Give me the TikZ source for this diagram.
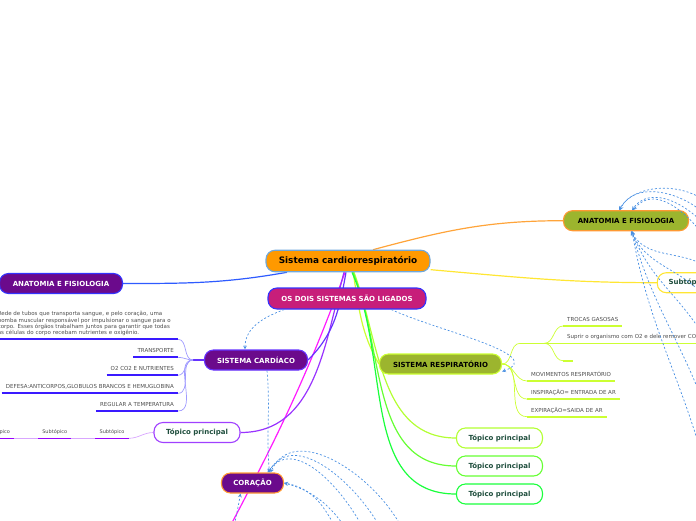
\documentclass[tikz,border=0pt]{standalone}
\usepackage{fontspec}
\setmainfont{DejaVu Sans}
\usetikzlibrary{positioning,backgrounds}

\definecolor{rootfill}{HTML}{FF9900}
\definecolor{rootline}{HTML}{6FA8DC}
\definecolor{linkfill}{HTML}{C71E7A}
\definecolor{purplefill}{HTML}{6B0A8C}
\definecolor{olivefill}{HTML}{9CB52E}
\definecolor{bordblue}{HTML}{3333FF}
\definecolor{underblue}{HTML}{3A1AFF}
\definecolor{bordorange}{HTML}{FF9933}
\definecolor{bordlime}{HTML}{CCFF33}
\definecolor{bordviolet}{HTML}{6633FF}
\definecolor{bordpurple}{HTML}{A040FF}
\definecolor{bordyellow}{HTML}{FFE633}
\definecolor{topictext}{HTML}{1F4E3D}
\definecolor{leaftext}{HTML}{4D4D4D}
\definecolor{relblue}{HTML}{4A90E2}
\definecolor{lineorange}{HTML}{FFA43A}
\definecolor{lineblue}{HTML}{2E5BFF}
\definecolor{linemagenta}{HTML}{FF1AFF}
\definecolor{linepurple}{HTML}{9933FF}
\definecolor{lavender}{HTML}{A09BFF}
\definecolor{lilac}{HTML}{D9A6FF}
\definecolor{subpurple}{HTML}{9900FF}
\definecolor{greenA}{HTML}{B3FF33}
\definecolor{greenB}{HTML}{66FF33}
\definecolor{greenC}{HTML}{1AFF3C}

\begin{document}
\begin{tikzpicture}[x=1pt, y=-1pt]
    \tikzstyle{box} = [rounded corners=9pt, line width=1.1pt, minimum height=20pt, inner sep=0pt, text centered]
    \tikzstyle{capsfont} = [font=\fontsize{7}{8}\selectfont\bfseries]
    \tikzstyle{root} = [box, fill=rootfill, draw=rootline, minimum width=164pt, minimum height=21.5pt, font=\fontsize{8.9}{10}\selectfont\bfseries]
    \tikzstyle{main} = [box, capsfont, text=white, fill=purplefill]
    \tikzstyle{greenbox} = [box, capsfont, fill=olivefill]
    \tikzstyle{topic} = [box, fill=white, text=topictext, minimum width=86pt, font=\fontsize{7}{8}\selectfont\bfseries]
    \tikzstyle{leaf} = [inner xsep=4pt, inner ysep=3pt, text=leaftext, font=\fontsize{5.5}{6.4}\selectfont]
    \tikzstyle{word} = [leaf, text height=3.9pt, text depth=1.4pt]
    \tikzstyle{cline} = [append after command={(\tikzlastnode.south west) edge[color=underblue, line width=1.8pt] (\tikzlastnode.south east)}]
    \tikzstyle{rline} = [append after command={(\tikzlastnode.south west) edge[color=bordlime, line width=1.6pt] (\tikzlastnode.south east)}]
    \tikzstyle{sline} = [append after command={(\tikzlastnode.south west) edge[color=subpurple, line width=1.6pt] (\tikzlastnode.south east)}]
    \tikzstyle{conn} = [line width=1.2pt]
    \tikzstyle{sub} = [line width=0.7pt]
    \tikzstyle{rel} = [draw=relblue, line width=0.7pt, dash pattern=on 2pt off 2pt, ->, >=stealth]

    \useasboundingbox (0,0) rectangle (696,520);

    % main topics
    \node[root] (root) at (348,261) {Sistema cardiorrespiratório};
    \node[main, fill=linkfill, draw=bordblue, minimum width=158pt, minimum height=21pt] (link) at (347,298.5) {OS DOIS SISTEMAS SÃO LIGADOS};
    \node[main, draw=bordblue, minimum width=123pt] (anatL) at (61,283.5) {ANATOMIA E FISIOLOGIA};
    \node[greenbox, draw=bordorange, minimum width=125pt] (anatR) at (626,220.7) {ANATOMIA E FISIOLOGIA};
    \node[topic, draw=bordyellow, minimum width=62pt] (subR) at (688.3,282.7) {Subtópico};
    \node[main, draw=bordviolet, minimum width=103pt] (card) at (256,360) {SISTEMA CARDÍACO};
    \node[greenbox, draw=bordlime, minimum width=122pt] (resp) at (440.5,364) {SISTEMA RESPIRATÓRIO};
    \node[topic, draw=bordpurple] (tpP) at (197,432.5) {Tópico principal};
    \node[main, draw=bordorange, minimum width=62pt] (cor) at (252.5,483) {CORAÇÃO};
    \node[topic, draw=greenA] (tp1) at (499.5,438) {Tópico principal};
    \node[topic, draw=greenB] (tp2) at (499.5,466) {Tópico principal};
    \node[topic, draw=greenC] (tp3) at (499.5,494) {Tópico principal};

    % sistema cardiaco
    \coordinate (cj) at (193,360);
    \node[leaf, cline, anchor=south east, text width=176pt, align=left] (para) at (178,339.3) {Rede de tubos que transporta sangue, e pelo coração, uma\\ bomba muscular responsável por impulsionar o sangue para o\\ corpo. Esses órgãos trabalham juntos para garantir que todas\\ as células do corpo recebam nutrientes e oxigênio.};
    \node[word, cline, below=18pt of para.south east, anchor=south east] (transp) {TRANSPORTE};
    \node[word, cline, below=18pt of transp.south east, anchor=south east] (nutri) {O2 CO2 E NUTRIENTES};
    \node[word, cline, below=18pt of nutri.south east, anchor=south east] (defesa) {DEFESA:ANTICORPOS,GLOBULOS BRANCOS E HEMUGLOBINA};
    \node[word, cline, below=17.7pt of defesa.south east, anchor=south east] (temp) {REGULAR A TEMPERATURA};

    % topico principal
    \node[word, sline, anchor=south east, font=\fontsize{5}{6}\selectfont] (s1) at (128.7,438.3) {Subtópico};
    \node[word, sline, left=24pt of s1.south west, anchor=south east, font=\fontsize{5}{6}\selectfont] (s2) {Subtópico};
    \node[word, sline, left=24pt of s2.south west, anchor=south east, font=\fontsize{5}{6}\selectfont] (s3) {Subtópico};

    % sistema respiratorio
    \node[word, rline, anchor=south west, minimum width=24pt] (rj) at (520,343.3) {};
    \node[word, rline, anchor=south west] (trocas) at (563,326) {TROCAS GASOSAS};
    \node[word, rline, below=17.3pt of trocas.south west, anchor=south west] (suprir) {Suprir o organismo com O2 e dele remover CO2};
    \node[word, rline, below=17.4pt of suprir.south west, anchor=south west, minimum width=10pt] (vazio) {};
    \node[word, rline, anchor=south west] (movim) at (527,381) {MOVIMENTOS RESPIRATÓRIO};
    \node[word, rline, below=18pt of movim.south west, anchor=south west] (inspir) {INSPIRAÇÃO= ENTRADA DE AR};
    \node[word, rline, below=17.7pt of inspir.south west, anchor=south west] (expir) {EXPIRAÇÃO=SAIDA DE AR};

    % free ends of the links
    \coordinate (offmag) at (208,568);
    \coordinate (cor1) at (230,548);
    \coordinate (cor2) at (345,548);
    \coordinate (cor3) at (358,548);
    \coordinate (cor4) at (372,548);
    \coordinate (cor5) at (390,548);
    \coordinate (cor6) at (410,548);
    \coordinate (anat1) at (718,222);
    \coordinate (anat2) at (720,238);
    \coordinate (anat3) at (722,252);
    \coordinate (anat4) at (725,270);
    \coordinate (anat5) at (706,266);
    \coordinate (anat6) at (706,298);
    \coordinate (anat7) at (706,340);
    \coordinate (anat8) at (706,410);
    \coordinate (anat9) at (706,470);

    \begin{scope}[on background layer]
    \draw[conn, lineorange] ([xshift=25pt]root.north) to[out=15,in=180] (anatR.west);
    \draw[conn, bordyellow] (root.-6) to[out=-5,in=180] (subR.west);
    \draw[conn, lineblue] ([xshift=-61pt]root.south) to[out=190,in=0] (anatL.east);
    \draw[conn, linemagenta] ([xshift=-3pt]root.south) to[out=-110,in=62] (offmag);
    \draw[conn, linepurple] ([xshift=-4pt]root.south) to[out=-105,in=0] (tpP.east);
    \draw[conn, bordviolet] ([xshift=-2pt]root.south) to[out=-100,in=45] (card.east);
    \draw[conn, bordlime] ([xshift=5pt]root.south) to[out=-80,in=120] (resp.west);
    \draw[conn, greenA] ([xshift=6pt]root.south) to[out=-70,in=180] (tp1.west);
    \draw[conn, greenB] ([xshift=5pt]root.south) to[out=-68,in=180] (tp2.west);
    \draw[conn, greenC] ([xshift=4pt]root.south) to[out=-66,in=180] (tp3.west);

    \draw[conn, bordviolet] (card.west) -- (cj);
    \draw[sub, lavender] (cj) to[out=180,in=0] (para.south east);
    \draw[sub, lavender] (cj) to[out=180,in=0] (transp.south east);
    \draw[sub, lavender] (cj) to[out=180,in=0] (nutri.south east);
    \draw[sub, lavender] (cj) to[out=180,in=0] (defesa.south east);
    \draw[sub, lavender] (cj) to[out=180,in=0] (temp.south east);

    \draw[sub, lilac] (tpP.west) to[out=180,in=0] (s1.south east);
    \draw[sub, lilac] (s1.south west) -- (s2.south east);
    \draw[sub, lilac] (s2.south west) -- (s3.south east);

    \draw[sub, bordlime] (resp.east) to[out=0,in=180] (rj.south west);
    \draw[sub, bordlime] (rj.south east) to[out=0,in=180] (trocas.south west);
    \draw[sub, bordlime] (rj.south east) to[out=0,in=180] (suprir.south west);
    \draw[sub, bordlime] (rj.south east) to[out=0,in=180] (vazio.south west);
    \draw[sub, bordlime] (resp.east) to[out=0,in=180] (movim.south west);
    \draw[sub, bordlime] (resp.east) to[out=0,in=180] (inspir.south west);
    \draw[sub, bordlime] (resp.east) to[out=0,in=180] (expir.south west);
    \end{scope}

    % relations
    \draw[rel] (link.190) to[out=200,in=90] ([xshift=-11pt]card.north);
    \draw[rel] (link.-14) to[out=-25,in=20] (resp.-7);
    \draw[rel] ([xshift=11pt]card.south) to[out=-85,in=95] ([xshift=17pt]cor.north);
    \draw[rel] (cor1) to[out=80,in=-100] ([xshift=-12pt]cor.south);
    \draw[rel] (cor2) to[out=115,in=-10] (cor.east);
    \draw[rel] (cor3) to[out=120,in=-15] (cor.east);
    \draw[rel] (cor4) to[out=110,in=55] ([xshift=15pt]cor.north);
    \draw[rel] (cor5) to[out=110,in=60] ([xshift=16pt]cor.north);
    \draw[rel] (cor6) to[out=105,in=65] ([xshift=18pt]cor.north);
    \draw[rel] (anat1) to[out=100,in=60] ([xshift=-7pt]anatR.north);
    \draw[rel] (anat2) to[out=105,in=65] ([xshift=-6pt]anatR.north);
    \draw[rel] (anat3) to[out=110,in=55] ([xshift=6pt]anatR.north);
    \draw[rel] (anat4) to[out=115,in=50] ([xshift=7pt]anatR.north);
    \draw[rel] (anat5) to[out=150,in=-60] ([xshift=5pt]anatR.south);
    \draw[rel] (anat6) to[out=130,in=-65] ([xshift=5pt]anatR.south);
    \draw[rel] (anat7) to[out=120,in=-70] ([xshift=6pt]anatR.south);
    \draw[rel] (anat8) to[out=110,in=-75] ([xshift=6pt]anatR.south);
    \draw[rel] (anat9) to[out=105,in=-80] ([xshift=6pt]anatR.south);
\end{tikzpicture}
\end{document}
